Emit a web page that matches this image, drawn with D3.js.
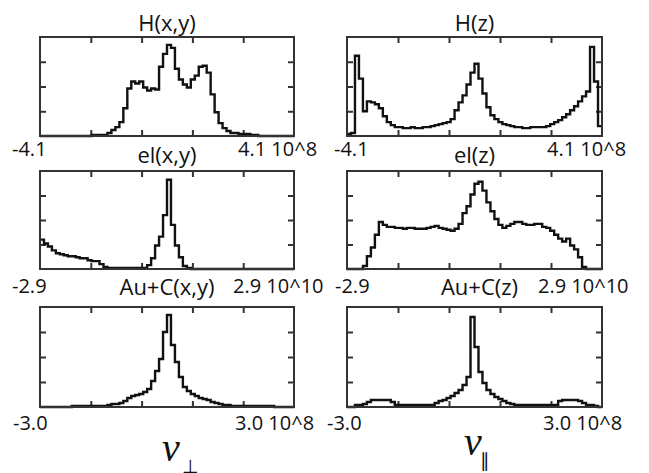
<!DOCTYPE html>
<html>
<head>
<meta charset="utf-8">
<script src="https://cdn.jsdelivr.net/npm/d3@7"></script>
<style>
  html, body { margin: 0; padding: 0; background: #fff; }
  svg text { font-family: "Open Sans", sans-serif; fill: #111; }
</style>
</head>
<body>
<div id="chart"></div>
<script>
// histogram heights (percent of panel height), 64 equal bins over each range
var hXY = [0,0,0,0,0,0,0,0,0,0,0,0,0,1,1,1,1,3,6,9,14,28,48,55,53,55,49,46,48,47,70,83,
  92,89,68,57,52,49,57,61,70,71,64,42,24,13,8,5,3,3,2,2,2,1,1,0,0,0,0,0,0,0,0,0];
var hZ = [2,3,81,58,25,35,34,32,28,20,14,11,9,9,8,8,9,8,8,9,9,10,11,12,13,14,17,26,34,41,52,64,
  73,58,43,29,21,17,14,12,11,10,9,9,8,8,9,9,9,9,10,12,14,16,19,22,26,30,35,40,45,90,55,10];
var elXY = [30,26,23,19,16,15,14,13,13,12,11,11,9,8,8,5,2,1,1,1,1,1,1,1,1,1,1,4,11,24,33,55,
  91,45,24,12,3,1,0,0,0,0,0,0,0,0,0,0,0,0,0,0,0,0,0,0,0,0,0,0,0,0,0,0];
var elZ = [0,0,0,0,3,13,22,35,48,45,43,43,42,42,41,42,42,41,41,41,42,43,44,42,41,40,39,41,46,57,64,76,
  87,89,80,68,59,51,45,42,44,46,48,48,46,45,45,46,46,43,42,39,35,31,28,31,24,20,12,2,0,0,0,0];
var auXY = [0,0,0,0,0,0,0,0,1,1,1,1,1,1,1,1,1,2,3,3,4,6,9,11,12,13,15,18,26,36,48,75,
  92,62,45,30,20,16,13,11,9,8,7,5,4,3,2,2,1,1,1,1,1,1,1,1,1,1,1,0,0,0,0,0];
var auZ = [0,0,2,2,3,5,7,7,7,7,7,5,2,2,2,2,2,2,2,2,2,2,4,6,7,9,11,14,17,22,30,90,
  60,35,24,17,13,10,8,6,4,3,2,2,2,2,2,2,2,2,2,2,2,6,7,7,7,7,6,4,2,2,1,0];

var titles = ["H(x,y)", "H(z)", "el(x,y)", "el(z)", "Au+C(x,y)", "Au+C(z)"];
var ranges = [[-4.1, 4.1], [-4.1, 4.1], [-2.9, 2.9], [-2.9, 2.9], [-3.0, 3.0], [-3.0, 3.0]];
var lowLabels = ["-4.1", "-4.1", "-2.9", "-2.9", "-3.0", "-3.0"];
var highLabels = ["4.1 10^8", "4.1 10^8", "2.9 10^10", "2.9 10^10", "3.0 10^8", "3.0 10^8"];
var series = [hXY, hZ, elXY, elZ, auXY, auZ];

var width = 649, height = 473;
var cols = [{x0: 40, x1: 294}, {x0: 347, x1: 602}];
var rows = [
  {y0: 37, y1: 136, title: 31, label: 156},
  {y0: 171, y1: 269, title: 163, label: 293},
  {y0: 307, y1: 407, title: 295, label: 430}
];
var lowX = [12, 334, 12, 335, 13, 327];
var highX = [238, 547, 233, 538, 235, 543];

var svg = d3.select('#chart').append('svg')
  .attr('width', width)
  .attr('height', height);

series.forEach(function (vals, k) {
  var col = cols[k % 2], row = rows[Math.floor(k / 2)];
  var lo = ranges[k][0], hi = ranges[k][1];
  var x = d3.scaleLinear().domain([lo, hi]).range([col.x0, col.x1]);
  var y = d3.scaleLinear().domain([0, 100]).range([row.y1, row.y0]);
  var g = svg.append('g');

  var step = (hi - lo) / vals.length;
  var pts = vals.map(function (v, i) { return [lo + i * step, v]; });
  pts.push([hi, vals[vals.length - 1]]);

  var xt = d3.range(1, 5).map(function (i) { return lo + i * (hi - lo) / 5; });
  var yt = [25, 50, 75];

  var axes = [
    [d3.axisTop(x).tickValues(xt), 'translate(0,' + row.y0 + ')'],
    [d3.axisBottom(x).tickValues(xt), 'translate(0,' + row.y1 + ')'],
    [d3.axisLeft(y).tickValues(yt), 'translate(' + col.x0 + ',0)'],
    [d3.axisRight(y).tickValues(yt), 'translate(' + col.x1 + ',0)']
  ];
  axes.forEach(function (a) {
    var ax = g.append('g').attr('transform', a[1])
      .call(a[0].tickSize(-6).tickFormat(''));
    ax.select('.domain').remove();
    ax.selectAll('line').attr('stroke', '#333').attr('stroke-width', 2);
  });

  g.append('path')
    .datum(pts)
    .attr('fill', 'none')
    .attr('stroke', '#111')
    .attr('stroke-width', 2.4)
    .attr('stroke-linejoin', 'miter')
    .attr('d', d3.line()
      .x(function (d) { return x(d[0]); })
      .y(function (d) { return y(d[1]); })
      .curve(d3.curveStepAfter));

  g.append('rect')
    .attr('x', col.x0).attr('y', row.y0)
    .attr('width', col.x1 - col.x0).attr('height', row.y1 - row.y0)
    .attr('fill', 'none').attr('stroke', '#333').attr('stroke-width', 2);

  g.append('text')
    .attr('x', (col.x0 + col.x1) / 2 + (k === 5 ? 5 : 0))
    .attr('y', row.title)
    .attr('text-anchor', 'middle')
    .style('font-size', '22px')
    .text(titles[k]);

  g.append('text').attr('x', lowX[k]).attr('y', row.label)
    .style('font-size', '20px').text(lowLabels[k]);
  g.append('text').attr('x', highX[k]).attr('y', row.label)
    .style('font-size', '20px').text(highLabels[k]);
});

// velocity component labels under each column
var vLabels = [{x: 162, y: 461, sub: '\u22A5', sx: 182, sy: 473, ss: 19},
               {x: 464, y: 455, sub: '\u2225', sx: 480, sy: 467, ss: 19}];
vLabels.forEach(function (d) {
  svg.append('text')
    .attr('x', d.x).attr('y', d.y)
    .style('font-family', '"Liberation Serif", serif')
    .style('font-style', 'italic')
    .style('font-size', '40px')
    .text('v');
  svg.append('text')
    .attr('x', d.sx).attr('y', d.sy)
    .style('font-family', '"DejaVu Sans", sans-serif')
    .style('font-size', d.ss + 'px')
    .text(d.sub);
});
</script>
</body>
</html>
